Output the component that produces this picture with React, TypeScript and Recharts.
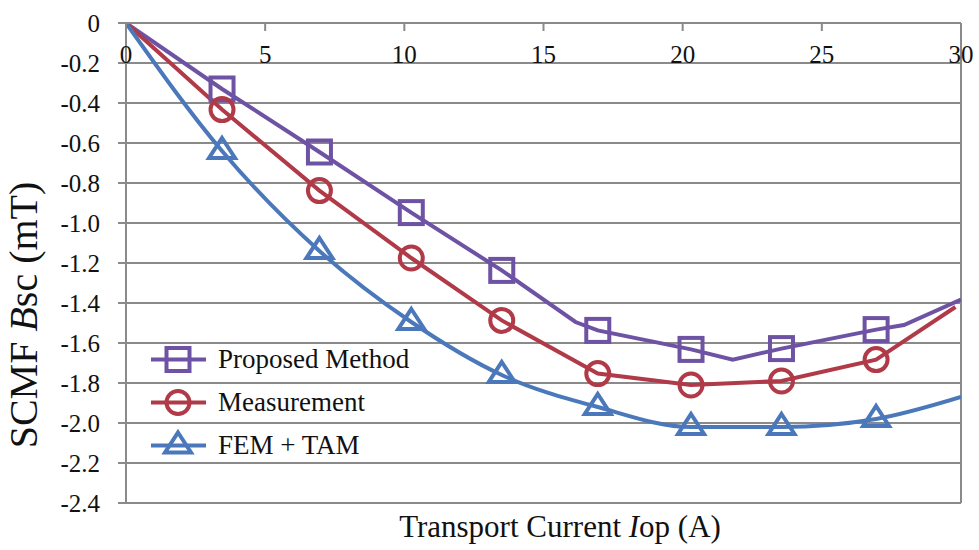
import { ComposedChart, Line, Scatter, XAxis, YAxis, CartesianGrid, ReferenceLine, Legend } from "recharts";

// currents (A) where the markers sit
const currents = [3.45, 6.95, 10.25, 13.5, 16.95, 20.3, 23.55, 26.95];
const proposedMarks = [-0.33, -0.645, -0.948, -1.237, -1.537, -1.632, -1.628, -1.533];
const measuredMarks = [-0.433, -0.838, -1.175, -1.487, -1.753, -1.81, -1.79, -1.683];
const femMarks = [-0.64, -1.14, -1.495, -1.76, -1.92, -2.02, -2.02, -1.98];

// the drawn lines
const proposedLineX = [0, 3.45, 6.95, 10.25, 13.5, 16.15, 16.95, 20.3, 21.8, 23.55, 26.95, 27.95, 30];
const proposedLineY = [0, -0.33, -0.645, -0.948, -1.237, -1.495, -1.537, -1.632, -1.683, -1.628, -1.533, -1.51, -1.383];
const measuredLineX = [0, 3.45, 6.95, 10.25, 13.5, 16.95, 20.3, 23.55, 26.95, 29.8];
const measuredLineY = [0, -0.433, -0.838, -1.175, -1.487, -1.753, -1.81, -1.79, -1.683, -1.42];
const femLineX = [0, 3.45, 6.95, 10.25, 13.5, 16.95, 20.3, 23.55, 26.95, 30];
const femLineY = [0, -0.64, -1.14, -1.495, -1.76, -1.92, -2.02, -2.02, -1.98, -1.87];

const xTicks = [0, 5, 10, 15, 20, 25, 30];
const yTicks = [0, -0.2, -0.4, -0.6, -0.8, -1.0, -1.2, -1.4, -1.6, -1.8, -2.0, -2.2, -2.4];
const seriesNames = ["Proposed Method", "Measurement", "FEM + TAM"];

const PURPLE = "#6E52A3";
const RED = "#B13A48";
const BLUE = "#4A78BA";
const GRID = "#8a8a8a";
const FONT = "Liberation Serif, DejaVu Serif, serif";
const PLOT_TOP = 23;

const toPoints = (xs: number[], ys: number[]) => xs.map((x, i) => ({ x, y: ys[i] }));

function Marker({ kind, cx, cy, color }: { kind: string; cx: number; cy: number; color: string }) {
  if (kind === "square") {
    return <rect x={cx - 11.5} y={cy - 11.5} width={23} height={23} fill="none" stroke={color} strokeWidth={4} />;
  }
  if (kind === "circle") {
    return <circle cx={cx} cy={cy} r={11.5} fill="none" stroke={color} strokeWidth={4} />;
  }
  return (
    <path
      d={`M${cx},${cy - 13}L${cx + 13},${cy + 7}L${cx - 13},${cy + 7}Z`}
      fill="none"
      stroke={color}
      strokeWidth={4}
    />
  );
}

const XTick = (props: any) => {
  const { x, payload } = props;
  return (
    <g>
      <line x1={x} y1={PLOT_TOP} x2={x} y2={PLOT_TOP + 8} stroke={GRID} strokeWidth={2} />
      <text x={x} y={63} textAnchor="middle" style={{ fontSize: 25, fontFamily: FONT }} fill="#111">
        {payload.value}
      </text>
    </g>
  );
};

const YTick = (props: any) => {
  const { x, y, payload } = props;
  const v = payload.value as number;
  return (
    <text x={x} y={y + 9} textAnchor="end" style={{ fontSize: 25, fontFamily: FONT }} fill="#111">
      {v === 0 ? "0" : v.toFixed(1)}
    </text>
  );
};

const YTitle = () => (
  <text x={37} y={315} transform="rotate(-90 37 315)" textAnchor="middle" style={{ fontSize: 40, fontFamily: FONT }} fill="#111">
    SCMF <tspan fontStyle="italic">B</tspan>sc (mT)
  </text>
);

const XTitle = () => (
  <text x={560} y={537} textAnchor="middle" style={{ fontSize: 31, fontFamily: FONT }} fill="#111">
    Transport Current <tspan fontStyle="italic">I</tspan>op (A)
  </text>
);

const legendItems = [
  { kind: "square", color: PURPLE },
  { kind: "circle", color: RED },
  { kind: "triangle", color: BLUE },
];

const renderLegend = () => (
  <div>
    {legendItems.map((item, i) => (
      <div key={i} style={{ display: "flex", alignItems: "center", height: 43 }}>
        <svg width={73} height={43}>
          <line x1={6} y1={21.5} x2={61} y2={21.5} stroke={item.color} strokeWidth={4} />
          <Marker kind={item.kind} cx={33} cy={21.5} color={item.color} />
        </svg>
        <span style={{ fontFamily: FONT, fontSize: 27, color: "#111", lineHeight: "43px" }}>{seriesNames[i]}</span>
      </div>
    ))}
  </div>
);

export default function App() {
  return (
    <div style={{ position: "absolute", left: 0, top: 0, background: "#fff" }}>
      <ComposedChart width={979} height={550} margin={{ top: 22, right: 18, bottom: 47, left: 0 }}>
        <CartesianGrid vertical={false} stroke={GRID} strokeWidth={2} />
        <XAxis
          dataKey="x"
          type="number"
          orientation="top"
          domain={[0, 30]}
          ticks={xTicks}
          interval={0}
          height={1}
          axisLine={{ stroke: GRID, strokeWidth: 2 }}
          tickLine={false}
          tick={<XTick />}
          label={<XTitle />}
          allowDataOverflow
        />
        <YAxis
          type="number"
          domain={[-2.4, 0]}
          ticks={yTicks}
          interval={0}
          width={126}
          axisLine={{ stroke: GRID, strokeWidth: 2 }}
          tickLine={{ stroke: GRID, strokeWidth: 2 }}
          tickSize={8}
          tickMargin={18}
          tick={<YTick />}
          label={<YTitle />}
          allowDataOverflow
        />
        <ReferenceLine x={30} stroke={GRID} strokeWidth={2} />
        <Line
          data={toPoints(proposedLineX, proposedLineY)}
          dataKey="y"
          type="linear"
          stroke={PURPLE}
          strokeWidth={4}
          dot={false}
          legendType="none"
          isAnimationActive={false}
        />
        <Line
          data={toPoints(measuredLineX, measuredLineY)}
          dataKey="y"
          type="linear"
          stroke={RED}
          strokeWidth={4}
          dot={false}
          legendType="none"
          isAnimationActive={false}
        />
        <Line
          data={toPoints(femLineX, femLineY)}
          dataKey="y"
          type="monotone"
          stroke={BLUE}
          strokeWidth={4}
          dot={false}
          legendType="none"
          isAnimationActive={false}
        />
        <Scatter
          data={toPoints(currents, proposedMarks)}
          dataKey="y"
          legendType="none"
          isAnimationActive={false}
          shape={(p: any) => <Marker kind="square" cx={p.cx} cy={p.cy} color={PURPLE} />}
        />
        <Scatter
          data={toPoints(currents, measuredMarks)}
          dataKey="y"
          legendType="none"
          isAnimationActive={false}
          shape={(p: any) => <Marker kind="circle" cx={p.cx} cy={p.cy} color={RED} />}
        />
        <Scatter
          data={toPoints(currents, femMarks)}
          dataKey="y"
          legendType="none"
          isAnimationActive={false}
          shape={(p: any) => <Marker kind="triangle" cx={p.cx} cy={p.cy} color={BLUE} />}
        />
        <Legend
          layout="vertical"
          align="center"
          verticalAlign="middle"
          wrapperStyle={{ left: 145, top: 338, width: 320 }}
          content={renderLegend}
        />
      </ComposedChart>
    </div>
  );
}
